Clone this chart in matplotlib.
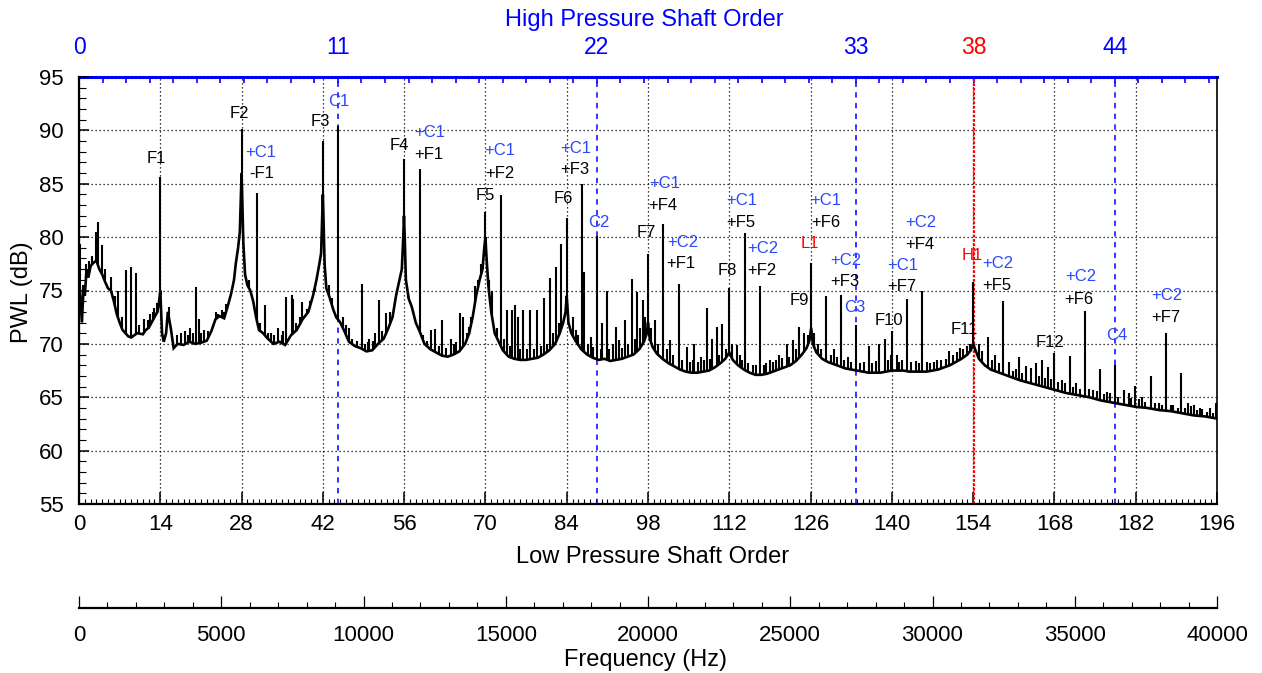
import numpy as np
import matplotlib
matplotlib.use("Agg")
import matplotlib.pyplot as plt
from matplotlib.ticker import MultipleLocator

plt.rcParams['font.family'] = ['Liberation Sans', 'DejaVu Sans']

# ---------------- data ----------------
# broadband floor of the spectrum (LP order, dB)
base_order = [0.0, 0.5, 0.8, 1.0, 1.3, 1.6, 2.0, 2.5, 3.0, 3.5, 4.0, 4.5, 5.0, 5.5, 6.0, 6.5,
              7.0, 7.5, 8.0, 8.5, 9.0, 10.0, 11.0, 11.5, 12.0, 12.5, 13.0, 13.5, 13.8, 14.0,
              14.3, 14.6, 15.0, 15.3, 15.8, 16.3, 17.0, 18.0, 19.0, 20.0, 21.0, 22.0, 22.8,
              23.5, 24.2, 25.0, 25.6, 26.2, 26.7, 27.0, 27.4, 27.7, 27.9, 28.0, 28.1, 28.3,
              28.6, 29.0, 29.5, 30.0, 30.5, 31.0, 31.7, 32.5, 33.5, 34.5, 35.5, 36.5, 37.5,
              38.5, 39.5, 40.3, 40.9, 41.4, 41.7, 41.9, 42.0, 42.1, 42.3, 42.6, 43.2, 43.8,
              44.3, 45.0, 45.7, 46.5, 47.5, 48.5, 49.5, 50.5, 51.5, 52.5, 53.3, 54.0, 54.6,
              55.2, 55.6, 55.85, 55.97, 56.1, 56.3, 56.8, 57.3, 58.0, 58.8, 59.5, 60.5, 61.5,
              62.5, 63.5, 64.5, 65.5, 66.5, 67.2, 67.8, 68.4, 69.0, 69.5, 69.8, 70.0, 70.2,
              70.5, 71.0, 71.6, 72.2, 73.0, 74.0, 75.0, 76.0, 77.0, 78.0, 79.0, 80.0, 81.0,
              82.0, 82.8, 83.4, 83.8, 84.0, 84.3, 84.8, 85.5, 86.5, 87.5, 88.5, 89.5, 90.5,
              91.5, 92.5, 93.5, 94.5, 95.5, 96.5, 97.3, 97.8, 98.0, 98.3, 98.8, 99.5, 100.5,
              101.5, 102.5, 103.5, 104.5, 105.5, 106.5, 107.5, 108.5, 109.5, 110.5, 111.3,
              112.0, 112.6, 113.5, 114.5, 115.5, 116.5, 117.5, 118.5, 119.5, 120.5, 121.5,
              122.5, 123.5, 124.5, 125.3, 125.8, 126.1, 126.4, 127.0, 128.0, 129.0, 130.0,
              131.0, 132.0, 133.0, 134.0, 135.0, 136.0, 137.0, 138.0, 139.0, 140.0, 141.0,
              142.0, 143.0, 144.0, 145.0, 146.0, 147.0, 148.0, 149.0, 150.0, 151.0, 152.0,
              153.0, 153.6, 154.0, 154.4, 155.0, 156.0, 157.0, 158.0, 159.0, 160.0, 162.0,
              164.0, 166.0, 168.0, 170.0, 172.0, 174.0, 176.0, 178.0, 180.0, 182.0, 184.0,
              186.0, 188.0, 190.0, 192.0, 194.0, 196.0]
base_db = [76.5, 72.0, 75.5, 74.5, 77.0, 76.2, 77.3, 77.6, 77.8, 77.0, 76.5, 75.8, 75.2, 75.0,
           74.0, 72.8, 72.0, 71.3, 71.0, 70.7, 70.6, 71.0, 70.9, 71.3, 71.5, 72.0, 72.5, 73.0,
           74.0, 75.0, 71.0, 70.2, 71.0, 73.0, 71.5, 69.6, 70.0, 69.9, 70.2, 70.0, 70.1, 70.3,
           71.2, 72.3, 72.6, 72.4, 73.5, 74.7, 76.0, 77.5, 79.0, 80.5, 84.0, 86.0, 84.0, 79.5,
           76.5, 75.5, 75.0, 74.0, 72.5, 71.3, 71.0, 70.5, 70.0, 70.2, 69.9, 70.8, 71.3, 72.3,
           73.0, 74.5, 76.0, 77.5, 78.5, 82.0, 84.0, 82.0, 77.5, 75.2, 74.3, 73.2, 72.5, 72.0,
           71.2, 70.2, 69.8, 69.6, 69.3, 69.4, 70.0, 70.5, 71.5, 72.5, 74.5, 76.0, 77.0, 80.0,
           82.0, 80.0, 76.0, 74.2, 73.5, 72.0, 71.0, 70.0, 69.5, 69.2, 68.9, 68.8, 69.0, 69.3,
           70.0, 71.0, 72.5, 74.5, 76.0, 77.0, 79.0, 80.0, 78.0, 75.5, 73.0, 71.0, 70.3, 69.4,
           68.8, 68.6, 68.5, 68.5, 68.6, 68.7, 69.0, 69.4, 70.0, 71.0, 72.0, 73.0, 74.5, 72.0,
           71.0, 70.3, 69.5, 69.0, 68.7, 68.5, 68.6, 68.4, 68.5, 68.6, 68.8, 69.0, 69.5, 70.2,
           71.0, 72.0, 70.5, 69.7, 69.1, 68.6, 68.2, 67.9, 67.6, 67.4, 67.3, 67.3, 67.4, 67.5,
           67.8, 68.2, 68.6, 69.2, 68.5, 68.0, 67.6, 67.3, 67.1, 67.1, 67.2, 67.4, 67.6, 67.8,
           68.0, 68.4, 69.0, 69.6, 70.3, 71.5, 70.0, 69.2, 68.6, 68.3, 68.1, 67.9, 67.7, 67.6,
           67.5, 67.4, 67.3, 67.3, 67.3, 67.4, 67.5, 67.5, 67.5, 67.4, 67.4, 67.4, 67.4, 67.5,
           67.6, 67.8, 68.0, 68.3, 68.6, 69.0, 69.4, 70.0, 69.4, 68.6, 68.0, 67.6, 67.4, 67.2,
           67.0, 66.6, 66.3, 66.0, 65.7, 65.4, 65.2, 65.0, 64.7, 64.5, 64.3, 64.1, 64.0, 63.8,
           63.7, 63.5, 63.3, 63.2, 63.0]

# tonal peaks (LP order, peak dB)
peak_order = [0.15, 2.9, 3.3, 3.9, 5.5, 6.8, 8.1, 9.0, 9.8, 11.2, 12.2, 13.0, 13.4, 14.0, 15.5,
              17.5, 18.3, 19.2, 20.2, 20.7, 21.5, 23.0, 24.0, 25.0, 28.0, 30.7, 32.0, 33.0,
              34.3, 35.7, 36.6, 36.9, 38.4, 39.2, 42.0, 44.65, 45.5, 46.5, 48.7, 50.0, 51.0,
              51.6, 52.9, 53.6, 56.0, 56.7, 58.65, 60.7, 61.3, 62.6, 64.0, 65.6, 66.2, 67.1,
              68.2, 68.7, 70.0, 71.1, 72.65, 73.7, 74.6, 75.1, 75.6, 76.5, 77.7, 78.8, 80.1,
              81.1, 82.1, 83.1, 84.0, 85.1, 86.6, 87.0, 88.1, 89.27, 90.0, 90.9, 92.5, 93.0,
              94.1, 95.3, 96.1, 97.1, 98.05, 99.2, 100.6, 101.8, 103.3, 104.7, 106.0, 107.2,
              108.1, 109.0, 109.9, 110.8, 112.0, 113.3, 114.65, 117.3, 119.0, 120.5, 121.9,
              123.0, 124.0, 124.9, 126.1, 128.7, 130.0, 131.25, 132.5, 133.88, 136.0, 137.8,
              138.8, 140.0, 140.8, 142.6, 144.2, 145.25, 147.8, 149.9, 151.7, 152.9, 154.06,
              156.6, 159.2, 160.2, 161.9, 163.1, 163.9, 164.8, 165.9, 166.9, 168.0, 169.3,
              170.6, 171.8, 173.2, 174.0, 175.9, 177.0, 178.4, 180.0, 180.8, 181.9, 183.0,
              184.6, 186.0, 187.2, 188.5, 189.8, 191.0, 192.0, 193.5, 194.8, 195.8]
peak_db = [79.4, 80.5, 81.4, 79.3, 76.3, 75.0, 76.9, 77.2, 76.6, 72.3, 72.8, 73.4, 73.8, 85.6,
           73.5, 71.0, 71.2, 71.5, 75.3, 72.3, 71.3, 71.8, 72.8, 73.0, 90.1, 84.1, 73.6, 71.0,
           71.5, 74.4, 74.6, 74.2, 73.9, 73.3, 89.0, 90.4, 72.5, 71.5, 75.6, 70.5, 71.0, 74.1,
           72.9, 73.0, 87.3, 74.3, 86.4, 71.3, 71.4, 72.2, 70.5, 72.9, 72.5, 71.6, 75.4, 76.0,
           82.4, 75.0, 83.9, 73.2, 73.2, 73.6, 72.5, 73.2, 73.2, 73.2, 74.3, 76.2, 77.2, 79.4,
           81.8, 72.5, 85.0, 76.7, 70.6, 80.1, 72.0, 75.0, 71.6, 70.4, 72.2, 76.1, 74.9, 74.1,
           78.4, 72.2, 81.2, 70.4, 75.6, 69.7, 70.0, 68.8, 73.4, 70.5, 71.6, 71.9, 75.2, 69.9,
           80.4, 75.4, 68.5, 69.0, 70.0, 70.4, 71.6, 71.0, 77.6, 74.5, 69.5, 74.6, 68.8, 71.8,
           69.8, 70.0, 70.5, 71.2, 69.0, 74.2, 68.4, 75.0, 68.5, 69.3, 69.6, 69.8, 75.8, 70.6,
           74.0, 68.3, 68.8, 67.9, 67.7, 68.2, 68.5, 67.8, 69.1, 66.6, 68.9, 66.3, 73.1, 65.8,
           67.6, 65.5, 68.0, 65.7, 65.4, 66.1, 65.0, 67.0, 64.5, 71.0, 64.3, 67.3, 64.5, 64.3,
           63.9, 64.0, 64.5]

# small broadband ripples riding on the floor (LP order, dB)
ripple_order = [1.2, 1.8, 2.3, 4.4, 6.2, 7.4, 10.4, 11.8, 12.7,
                16.8, 18.8, 19.7, 21.0, 22.3, 23.6, 24.6, 25.4, 26.0,
                29.3, 31.2, 32.6, 33.6, 34.9, 35.2, 37.3, 38.0, 39.8, 40.6,
                43.0, 43.5, 45.9, 47.0, 47.9, 49.2, 49.8, 50.6, 52.2, 54.3, 55.0,
                57.6, 59.2, 60.0, 62.0, 63.2, 64.6, 65.0, 66.8, 67.6, 69.3,
                70.6, 72.0, 73.2, 74.2, 76.0, 77.2, 78.3, 79.5, 80.6, 81.6, 82.6,
                85.6, 86.0, 87.6, 88.6, 89.9, 91.3, 91.9, 93.5, 94.6, 95.8, 96.6, 97.5,
                98.6, 99.7, 101.2, 102.3, 103.9, 105.2, 105.7, 106.6, 107.7, 108.6, 110.3, 111.5,
                112.5, 113.8, 114.2, 115.3, 116.0, 116.6, 118.0, 118.4, 119.6, 120.0, 121.0,
                122.3, 123.5, 125.5,
                126.6, 127.3, 127.8, 129.5, 130.5, 131.7, 133.0, 134.5, 135.2, 136.6, 137.3,
                139.4, 139.8,
                141.3, 141.8, 143.3, 144.7, 146.0, 146.6, 147.3, 148.5, 149.3, 150.5, 151.2,
                152.3, 153.4,
                155.0, 155.6, 157.3, 157.8, 158.5, 160.8, 161.3, 162.5, 165.3, 166.3, 167.4,
                168.6, 169.8, 171.2, 172.4, 174.6, 175.3, 176.5, 177.6, 179.0, 181.2,
                182.5, 183.6, 185.3, 186.6, 188.0, 189.2, 190.5, 191.5, 192.6, 193.0, 194.3, 195.3]
ripple_db = [77.5, 77.8, 78.2, 77.0, 74.5, 72.5, 71.8, 72.2, 73.0,
             70.8, 70.8, 71.0, 71.0, 71.2, 73.0, 73.2, 73.7, 74.5,
             76.0, 72.0, 71.0, 70.8, 70.8, 71.2, 72.0, 72.5, 74.0, 75.0,
             75.5, 74.3, 71.8, 70.5, 70.3, 70.0, 70.2, 70.3, 71.2, 73.5, 75.5,
             73.0, 70.8, 70.3, 69.8, 69.6, 70.0, 70.2, 71.0, 72.5, 77.5,
             76.0, 71.5, 70.5, 69.8, 69.5, 69.5, 69.5, 69.8, 70.0, 71.0, 72.0,
             71.3, 70.8, 70.0, 69.7, 69.5, 69.5, 70.0, 69.6, 70.0, 70.5, 71.5, 72.5,
             71.5, 70.0, 69.5, 69.0, 68.5, 68.3, 68.5, 68.3, 68.5, 68.6, 69.0, 69.5,
             70.0, 69.0, 68.5, 68.2, 68.0, 68.0, 68.0, 68.2, 68.3, 68.5, 68.7,
             68.8, 69.5, 70.8,
             71.0, 70.0, 69.5, 69.0, 68.8, 68.5, 68.3, 68.2, 68.3, 68.2, 68.4,
             68.5, 69.0,
             68.3, 68.5, 68.3, 68.2, 68.3, 68.2, 68.3, 68.5, 68.6, 69.0, 69.2,
             69.5, 70.0,
             70.0, 69.3, 68.5, 69.0, 68.2, 67.5, 67.6, 67.3, 67.0, 66.8, 66.7,
             66.4, 66.3, 66.0, 65.8, 65.7, 65.6, 65.3, 65.4, 65.0, 64.9,
             64.8, 64.6, 64.5, 64.3, 64.3, 64.0, 64.0, 64.2, 63.8, 64.0, 63.6, 63.5]

# annotation labels
label_text = ['F1', 'F2', '+C1', '-F1', 'F3', 'C1', 'F4', '+C1', '+F1', 'F5', '+C1', '+F2',
              'F6', '+C1', '+F3', 'C2', 'F7', '+C1', '+F4', '+C2', '+F1', 'F8', '+C1', '+F5',
              '+C2', '+F2', 'F9', 'L1', '+C1', '+F6', '+C2', '+F3', 'C3', 'F10', '+C1', '+F7',
              '+C2', '+F4', 'F11', 'H1', '+C2', '+F5', 'F12', '+C2', '+F6', 'C4', '+C2', '+F7']
label_x = [13.4, 27.7, 31.3, 31.4, 41.6, 44.7, 55.2, 60.4, 60.2, 69.9, 72.4, 72.5,
           83.5, 85.5, 85.4, 89.6, 97.7, 100.9, 100.6, 104.0, 103.7, 111.7, 114.1, 114.0,
           117.8, 117.6, 124.1, 125.8, 128.6, 128.6, 132.1, 131.9, 133.65, 139.5, 141.9, 141.8,
           145.0, 144.8, 152.5, 153.9, 158.3, 158.1, 167.2, 172.5, 172.2, 178.75, 187.4, 187.1]
label_y = [87.4, 91.6, 87.9, 86.0, 90.8, 92.75, 88.6, 89.8, 87.7, 83.9, 88.1, 86.0,
           83.6, 88.3, 86.3, 81.35, 80.4, 85.0, 83.0, 79.5, 77.5, 76.9, 83.45, 81.4,
           78.9, 76.9, 74.1, 79.4, 83.45, 81.4, 77.8, 75.8, 73.4, 72.2, 77.35, 75.35,
           81.4, 79.35, 71.3, 78.25, 77.5, 75.45, 70.1, 76.3, 74.2, 70.8, 74.5, 72.5]

lp_ticks = list(range(0, 197, 14))
db_ticks = list(range(55, 96, 5))
hp_ticks = [0, 11, 22, 33, 38, 44]
hp_lines = [11, 22, 33, 44]
hp_highlight = 38
lp_per_hp = 4.0545
freq_max = 40000
freq_ticks = list(range(0, 40001, 5000))

BLUE = '#0000ff'
LBLUE = '#2a48ff'
RED = '#ff0000'

# ---------------- figure ----------------
W, H = 1262, 673
fig = plt.figure(figsize=(W / 100, H / 100), dpi=100)
L, R, T, B = 79, 1217, 77, 504
ax = fig.add_axes([L / W, 1 - B / H, (R - L) / W, (B - T) / H])
ax.set_xlim(0, 196)
ax.set_ylim(55, 95)

# grid
ax.set_xticks(lp_ticks)
ax.set_yticks(db_ticks)
ax.grid(True, which='major', color='k', lw=0.9, linestyle=(0, (1, 2.2)), zorder=1)
ax.set_axisbelow(True)

# HP order reference lines
for h in hp_lines:
    ax.axvline(h * lp_per_hp, color=BLUE, lw=1.1, ls=(0, (3.5, 3.5)), zorder=2)
ax.axvline(hp_highlight * lp_per_hp, color=RED, lw=1.6, ls=(0, (1.2, 0.8)), zorder=2.5)

# spectrum
bo = np.array(base_order)
bd = np.array(base_db)
ax.plot(bo, bd, color='k', lw=1.9, zorder=3, solid_joinstyle='miter')
for xs, ys in ((peak_order, peak_db), (ripple_order, ripple_db)):
    xs = np.array(xs)
    ys = np.array(ys)
    feet = np.interp(xs, bo, bd)
    ax.vlines(xs, feet, ys, color='k', lw=1.5, zorder=3)

# annotations
for s, x, y in zip(label_text, label_x, label_y):
    if s in ('L1', 'H1'):
        c = RED
    elif 'C' in s:
        c = LBLUE
    else:
        c = 'k'
    ax.text(x, y, s, color=c, fontsize=12, ha='center', va='center', zorder=5)

# axes styling
ax.xaxis.set_minor_locator(MultipleLocator(1))
ax.yaxis.set_minor_locator(MultipleLocator(1))
ax.tick_params(axis='x', which='major', direction='in', length=8.6, width=1.1,
               labelsize=16, pad=7, top=False)
ax.tick_params(axis='x', which='minor', direction='in', length=3.6, width=0.8, top=False)
ax.tick_params(axis='y', which='major', direction='in', length=7, width=1.1,
               labelsize=16, pad=11, right=False)
ax.tick_params(axis='y', which='minor', direction='in', length=5, width=0.8, right=False)
ax.spines['top'].set_visible(False)
ax.spines['left'].set_linewidth(1.6)
ax.spines['bottom'].set_linewidth(1.6)
ax.spines['right'].set_linewidth(1.2)

# top HP axis
sec = ax.secondary_xaxis('top', functions=(lambda x: x / lp_per_hp, lambda x: x * lp_per_hp))
sec.set_xticks(hp_ticks, labels=[str(t) for t in hp_ticks])
sec.xaxis.set_minor_locator(MultipleLocator(1))
sec.tick_params(which='both', direction='in', length=4, width=1.2, color=BLUE)
sec.tick_params(which='major', labelsize=16.5, pad=13, labelcolor=BLUE)
for lab, t in zip(sec.get_xticklabels(), hp_ticks):
    if t == hp_highlight:
        lab.set_color(RED)
sec.spines['top'].set_color(BLUE)
sec.spines['top'].set_linewidth(2.2)

# frequency axis
fy = 608
fax = fig.add_axes([L / W, 1 - fy / H, (R - L) / W, 1e-4])
fax.set_xlim(0, freq_max)
fax.set_ylim(0, 1)
fax.set_yticks([])
fax.set_xticks(freq_ticks)
fax.xaxis.set_minor_locator(MultipleLocator(1000))
fax.patch.set_visible(False)
for k in ('top', 'left', 'right'):
    fax.spines[k].set_visible(False)
fax.spines['bottom'].set_linewidth(1.6)
fax.tick_params(axis='x', which='major', direction='in', length=8.6, width=0.9,
                labelsize=16, pad=12)
fax.tick_params(axis='x', which='minor', direction='in', length=4.3, width=0.8)

# axis titles
fig.text(644 / W, 1 - 20 / H, 'High Pressure Shaft Order', color=BLUE, fontsize=17,
         ha='center', va='center')
fig.text(653 / W, 1 - 557 / H, 'Low Pressure Shaft Order', fontsize=17,
         ha='center', va='center')
fig.text(646 / W, 1 - 660 / H, 'Frequency (Hz)', fontsize=17, ha='center', va='center')
fig.text(22 / W, 1 - 292 / H, 'PWL (dB)', fontsize=17, rotation=90, ha='center', va='center')

fig.savefig('out.png', dpi=100)
